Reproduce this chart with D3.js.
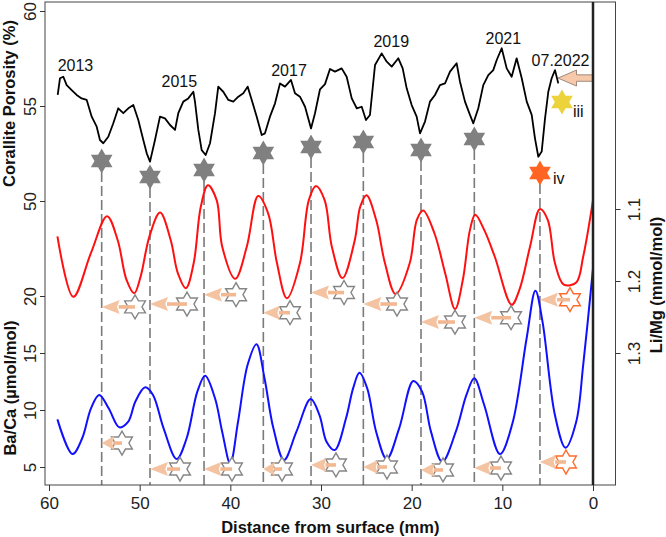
<!DOCTYPE html>
<html><head><meta charset="utf-8">
<script src="https://cdn.jsdelivr.net/npm/d3@7"></script>
<style>body{margin:0;background:#fff} svg{display:block} text{font-family:"Liberation Sans",Arial,sans-serif}</style>
</head><body><svg id="c" width="666" height="537"></svg>
<script>
// ---- data (distance from surface in mm) ----
const porosityDepth = [59.04,58.79,58.42,58.05,57.5,56.95,56.4,55.84,55.29,54.74,54.38,54.01,53.46,52.91,52.36,51.81,51.25,50.7,50.15,49.6,49.22,48.86,48.31,47.76,47.21,46.65,46.1,45.74,45.19,44.64,44.08,43.9,43.53,43.16,42.72,42.24,41.69,41.33,40.78,40.22,39.67,39.12,38.57,38.09,37.64,37.09,36.54,36.18,35.63,35.07,34.52,33.97,33.31,32.87,32.32,31.76,31.1,30.66,30.11,29.56,29.01,28.46,27.72,27.17,26.61,26.06,25.51,25.04,24.6,24.04,23.31,22.75,22.2,21.47,20.99,20.55,20.0,19.45,19.08,18.53,17.98,17.43,16.88,16.32,15.77,15.04,14.67,14.12,13.57,13.2,12.65,12.1,11.55,11.0,10.62,10.07,9.52,8.97,8.42,7.86,7.31,6.76,6.4,6.03,5.66,5.29,4.93,4.56,4.19,3.83];
const porosityValue = [55.58,56.46,56.54,56.1,55.84,55.58,55.4,55.32,54.44,53.91,53.21,53.04,53.38,54.09,54.88,54.62,54.88,55.05,54.26,53.21,52.51,52.07,53.21,54.44,54.35,54.0,53.74,54.62,55.23,55.4,55.75,55.23,53.74,52.68,52.42,53.04,54.62,56.02,55.75,55.32,55.23,55.49,55.67,56.02,55.32,54.44,53.47,53.56,54.44,55.14,56.19,56.02,56.37,55.67,55.49,54.96,53.82,54.62,55.88,56.15,56.95,56.81,56.98,56.54,55.4,54.88,54.96,54.26,54.53,57.16,57.77,57.33,57.07,57.51,56.98,55.93,55.05,54.44,53.56,54.18,55.23,55.58,56.1,56.19,56.81,57.25,56.28,55.23,54.53,54.09,54.88,56.1,56.63,56.89,57.42,58.04,56.98,56.54,57.51,56.46,55.23,54.53,53.3,52.33,52.6,54.35,55.75,56.46,56.89,56.19];

const liMgDepth = [59.07,57.32,55.37,53.6,52.43,51.46,50.6,49.9,48.92,47.75,46.58,45.79,44.9,44.04,43.26,42.47,41.5,40.9,39.46,38.18,36.93,35.83,34.86,33.76,32.32,31.35,30.56,29.59,28.81,27.63,26.27,25.68,24.98,23.92,22.95,21.77,20.21,19.43,18.73,17.48,16.31,15.21,14.35,13.57,12.99,12.0,10.84,8.97,8.11,6.94,5.85,4.99,4.2,3.22,1.85,1.08,0.0];
const liMgValue = [1.138,1.222,1.161,1.110,1.143,1.198,1.217,1.194,1.138,1.105,1.143,1.189,1.210,1.175,1.097,1.067,1.088,1.152,1.197,1.152,1.082,1.106,1.175,1.224,1.175,1.088,1.068,1.088,1.152,1.196,1.143,1.097,1.081,1.115,1.175,1.218,1.175,1.115,1.102,1.134,1.189,1.239,1.198,1.129,1.108,1.129,1.166,1.233,1.212,1.152,1.100,1.115,1.175,1.205,1.202,1.166,1.088];

const baCaDepth = [59.07,57.4,56.34,55.37,54.46,53.42,52.24,51.26,50.48,49.39,48.53,47.36,45.92,44.82,43.64,42.78,41.69,40.9,40.01,39.15,38.1,37.12,36.23,35.25,34.08,32.71,31.14,30.17,29.39,28.49,27.24,26.46,25.76,24.9,23.92,22.75,21.38,19.82,18.85,17.87,16.62,15.13,13.96,13.1,12.0,10.26,8.89,7.32,6.35,5.57,4.2,3.03,1.85,1.08,0.0];
const baCaValue = [9.18,6.14,7.52,10.15,11.32,10.15,8.48,8.97,10.73,11.99,11.32,8.39,5.70,7.52,11.61,13.01,11.03,8.1,5.32,8.97,13.95,15.76,12.78,8.39,5.61,8.1,10.96,9.56,7.22,6.49,9.27,11.9,13.27,11.9,8.1,5.70,8.39,12.54,11.61,8.1,5.46,8.1,11.32,12.78,10.44,6.14,8.81,16.29,20.47,17.75,9.56,6.69,8.97,13.95,22.4];

// growth-band events (grey stars + dashed lines)
const eventDepth = [54.19,48.86,42.9,36.36,31.1,25.33,18.97,13.09,5.85];
const eventPorosity = [52.11,51.26,51.63,52.53,52.84,53.11,52.68,53.26,51.47];
// open-star markers on Li/Mg and Ba/Ca
const liMgMarkerDepth = [50.51,44.78,39.37,33.42,27.46,21.62,15.22,9.04,2.54];
const liMgMarkerValue = [1.236,1.232,1.219,1.244,1.216,1.232,1.257,1.251,1.226];
const baCaMarkerDepth = [51.95,45.55,39.82,34.3,28.35,22.72,16.54,10.15,2.98];
const baCaMarkerValue = [7.1,4.82,4.82,4.82,5.18,5.0,4.74,4.91,5.44];

const yearLabels = ["2013","2015","2017","2019","2021","07.2022"];
const yearDepth = [57.08,45.63,33.53,22.25,9.89,3.58];
const yearPorosity = [56.84,56.0,56.59,58.12,58.25,57.11];

const starIII = {depth:3.42, value:55.21, label:"iii", labelDepth:2.21, labelValue:54.42};
const starIV = {label:"iv", labelDepth:4.41, labelValue:50.89};
const surfaceArrow = {fromDepth:0, toDepth:3.86, value:56.47};

const xTicks = [60,50,40,30,20,10,0];
const porosityTicks = [50,55,60];
const baCaTicks = [5,10,15,20];
const liMgTicks = [1.1,1.2,1.3];

// ---- scales ----
const x = d3.scaleLinear().domain([60,0]).range([49,593]);
const yPor = d3.scaleLinear().domain([50,60]).range([201,11]);
const yBa = d3.scaleLinear().domain([5,20]).range([467,296]);
const yLi = d3.scaleLinear().domain([1.1,1.3]).range([209,353]);

const svg = d3.select("#c");
svg.append("rect").attr("width",666).attr("height",537).attr("fill","#fff");

const L = 45, R = 615.5, T = 2, B = 485;

function hexStar(r){
  const ri = r/Math.sqrt(3), pts=[];
  for(let i=0;i<12;i++){
    const a = -Math.PI/2 + i*Math.PI/6, rr = i%2 ? ri : r;
    pts.push([rr*Math.cos(a), rr*Math.sin(a)]);
  }
  return "M"+pts.map(p=>p[0].toFixed(2)+","+p[1].toFixed(2)).join("L")+"Z";
}

// dashed event lines
svg.append("g").selectAll("line").data(eventDepth).join("line")
  .attr("x1",d=>x(d)).attr("x2",d=>x(d))
  .attr("y1",(d,i)=>yPor(eventPorosity[i])+11).attr("y2",B)
  .attr("stroke","#7a7a7a").attr("stroke-width",1.6).attr("stroke-dasharray","10,4");

// curves
const curve = d3.curveCatmullRom.alpha(0.5);
svg.append("path").datum(d3.range(porosityDepth.length))
  .attr("d", d3.line().x(i=>x(porosityDepth[i])).y(i=>yPor(porosityValue[i])))
  .attr("fill","none").attr("stroke","#000").attr("stroke-width",1.8).attr("stroke-linejoin","round");
svg.append("path").datum(d3.range(liMgDepth.length))
  .attr("d", d3.line().curve(curve).x(i=>x(liMgDepth[i])).y(i=>yLi(liMgValue[i])))
  .attr("fill","none").attr("stroke","#ff1010").attr("stroke-width",2);
svg.append("path").datum(d3.range(baCaDepth.length))
  .attr("d", d3.line().curve(curve).x(i=>x(baCaDepth[i])).y(i=>yBa(baCaValue[i])))
  .attr("fill","none").attr("stroke","#1010ff").attr("stroke-width",2);

// event stars
svg.append("g").selectAll("path").data(eventDepth).join("path")
  .attr("d",hexStar(12.5))
  .attr("transform",(d,i)=>`translate(${x(d)},${yPor(eventPorosity[i])})`)
  .attr("fill",(d,i)=>i===eventDepth.length-1 ? "#ff6422" : "#808080");
svg.append("path").attr("d",hexStar(12.5))
  .attr("transform",`translate(${x(starIII.depth)},${yPor(starIII.value)})`)
  .attr("fill","#ecd33c");
svg.append("text").attr("x",x(starIII.labelDepth)).attr("y",yPor(starIII.labelValue))
  .attr("font-size",16).attr("fill","#111").text(starIII.label);
svg.append("text").attr("x",x(starIV.labelDepth)).attr("y",yPor(starIV.labelValue))
  .attr("font-size",16).attr("fill","#111").text(starIV.label);

// open stars with arrows
function markerRow(depths, ys){
  const g = svg.append("g");
  depths.forEach((d,i)=>{
    const sx = x(d), sy = ys[i], tip = x(eventDepth[i]);
    const last = i===depths.length-1;
    g.append("path").attr("d",hexStar(12)).attr("transform",`translate(${sx},${sy})`)
      .attr("fill","#fff").attr("stroke", last ? "#ff6a2a" : "#858585").attr("stroke-width",1.4);
    const hl = Math.min(18,(sx-tip)*0.62), hh = 7;
    g.append("rect").attr("x",tip+hl-1).attr("y",sy-1.8).attr("width",sx-tip-hl+1).attr("height",3.6)
      .attr("fill","#f2b892");
    g.append("path").attr("d",`M${tip},${sy}L${tip+hl},${sy-hh}L${tip+hl*0.85},${sy}L${tip+hl},${sy+hh}Z`)
      .attr("fill","#f4c3a2");
  });
}
markerRow(liMgMarkerDepth, liMgMarkerValue.map(v=>yLi(v)));
markerRow(baCaMarkerDepth, baCaMarkerValue.map(v=>yBa(v)));

// surface arrow (07.2022)
{
  const tx = x(surfaceArrow.toDepth), ex = x(surfaceArrow.fromDepth), ay = yPor(surfaceArrow.value);
  const hb = tx+18.5;
  svg.append("path")
    .attr("d",`M${tx},${ay}L${hb},${ay-8}L${hb},${ay-3.2}L${ex},${ay-3.2}L${ex},${ay+3.2}L${hb},${ay+3.2}L${hb},${ay+8}Z`)
    .attr("fill","#f6c9aa").attr("stroke","#a08a7c").attr("stroke-width",1);
}

// year labels
svg.append("g").selectAll("text").data(yearLabels).join("text")
  .attr("x",(d,i)=>x(yearDepth[i])).attr("y",(d,i)=>yPor(yearPorosity[i]))
  .attr("text-anchor","middle").attr("font-size",16).attr("fill","#111").text(d=>d);

// frame and surface line
svg.append("rect").attr("x",L).attr("y",T).attr("width",R-L).attr("height",B-T)
  .attr("fill","none").attr("stroke","#444").attr("stroke-width",1);
svg.append("line").attr("x1",x(0)).attr("x2",x(0)).attr("y1",T).attr("y2",B)
  .attr("stroke","#222").attr("stroke-width",2.5);

// axes
function styleAxis(g){ g.select(".domain").remove(); g.selectAll("line").attr("stroke","#333"); g.selectAll("text").attr("fill","#222").attr("font-size",17).attr("font-family",'"Liberation Sans",Arial,sans-serif'); }
svg.append("g").attr("transform",`translate(0,${B})`)
  .call(d3.axisBottom(x).tickValues(xTicks).tickSize(6).tickPadding(6).tickFormat(d3.format("d")))
  .call(styleAxis);
function leftAxis(scale, ticks){
  svg.append("g").attr("transform",`translate(${L},0)`)
    .call(d3.axisLeft(scale).tickValues(ticks).tickSize(5).tickFormat(d3.format("d")))
    .call(styleAxis)
    .call(g=>g.selectAll("text").attr("x",null).attr("dy",null).attr("text-anchor","middle")
      .attr("transform","translate(-9.5,0) rotate(-90)"));
}
leftAxis(yPor, porosityTicks);
leftAxis(yBa, baCaTicks);
svg.append("g").attr("transform",`translate(${R},0)`)
  .call(d3.axisRight(yLi).tickValues(liMgTicks).tickSize(5).tickFormat(d3.format(".1f")))
  .call(styleAxis)
  .call(g=>g.selectAll("text").attr("x",null).attr("dy",null).attr("text-anchor","middle")
    .attr("transform","translate(24.5,0) rotate(-90)"));

// axis titles
svg.append("text").attr("transform",`translate(${(L+R)/2},533)`).attr("text-anchor","middle")
  .attr("font-size",16.5).attr("font-weight","bold").attr("fill","#111").text("Distance from surface (mm)");
svg.append("text").attr("transform","translate(15,103.5) rotate(-90)").attr("text-anchor","middle")
  .attr("font-size",16.5).attr("font-weight","bold").attr("fill","#111").text("Corallite Porosity (%)");
svg.append("text").attr("transform","translate(16,388) rotate(-90)").attr("text-anchor","middle")
  .attr("font-size",16.5).attr("font-weight","bold").attr("fill","#111").text("Ba/Ca (µmol/mol)");
svg.append("text").attr("transform","translate(662,285) rotate(-90)").attr("text-anchor","middle")
  .attr("font-size",16.5).attr("font-weight","bold").attr("fill","#111").text("Li/Mg (mmol/mol)");
</script></body></html>
